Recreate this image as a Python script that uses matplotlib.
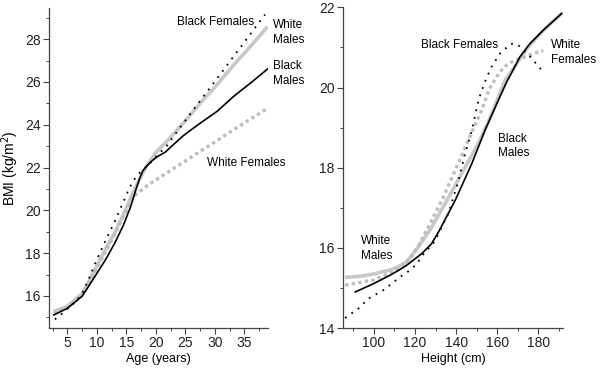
import matplotlib
matplotlib.use('Agg')
import matplotlib.pyplot as plt
from matplotlib.ticker import MultipleLocator

plt.rcParams['font.family'] = ['Liberation Sans', 'DejaVu Sans']
plt.rcParams['font.size'] = 8.5

# ── BMI by age (years)
wm_age = [2.7, 5, 7.5, 8.5, 10, 11.5, 13, 14.5, 16, 17.4, 18.5, 20, 21.8, 24.7, 27.6, 30.4, 33.2, 36.1, 38.9]
wm_age_bmi = [15.27, 15.52, 16.1, 16.6, 17.4, 18.2, 18.95, 19.8, 20.75, 21.55, 22.1, 22.7, 23.2, 24.09, 25.03, 25.88, 26.8, 27.68, 28.58]

wf_age = [2.7, 5, 7.5, 10, 12.8, 14.5, 16.2, 18.5, 21, 24, 27.5, 33.2, 38.6]
wf_age_bmi = [15.2, 15.45, 16.05, 17.3, 18.75, 19.7, 20.65, 21.15, 21.6, 22.13, 22.75, 23.77, 24.71]

bm_age = [2.7, 5, 7.5, 8.5, 10, 11.5, 13, 14.5, 15.7, 16.6, 17.2, 17.8, 18.5, 19.3, 20.2, 21.6, 22.5, 24.7, 27.6, 30.4, 33.2, 36.1, 39.0]
bm_age_bmi = [15.11, 15.42, 15.98, 16.4, 17.05, 17.7, 18.45, 19.3, 20.15, 20.95, 21.45, 21.85, 22.08, 22.3, 22.5, 22.72, 22.95, 23.5, 24.09, 24.63, 25.33, 25.96, 26.62]

bf_age = [2.9, 4, 5, 6.5, 7.5, 8.5, 10, 11.5, 13, 14.5, 15.6, 16.5, 17.4, 18.8, 20, 21.8, 24.7, 27.6, 30.4, 33.2, 36.1, 38.5]
bf_age_bmi = [14.9, 15.15, 15.4, 15.75, 16.1, 16.7, 17.7, 18.6, 19.45, 20.4, 21.1, 21.5, 21.8, 22.14, 22.5, 23.0, 24.09, 25.15, 26.17, 27.2, 28.27, 29.15]

# ── BMI by height (cm)
wm_ht = [86, 95, 100, 108, 112, 116, 121.7, 128.3, 134.7, 142.8, 150.9, 157.4, 163.8, 169.5, 174.4, 182.4, 191.4]
wm_ht_bmi = [15.26, 15.3, 15.35, 15.45, 15.53, 15.65, 16.03, 16.53, 17.11, 17.86, 18.61, 19.35, 20.18, 20.6, 20.97, 21.43, 21.85]

wf_ht = [86, 100, 111.3, 117, 121, 126.6, 133.1, 139.6, 146.0, 152.5, 156, 159.8, 163, 166.3, 171.1, 177.6, 182.4]
wf_ht_bmi = [15.07, 15.2, 15.45, 15.7, 15.98, 16.53, 17.19, 17.94, 18.69, 19.44, 19.95, 20.27, 20.5, 20.62, 20.72, 20.85, 20.92]

bm_ht = [91, 100, 108, 113.7, 116.1, 123.4, 128, 131.5, 139.6, 147.7, 154.1, 160.6, 164.7, 166.3, 171.1, 176, 182.4, 191.4]
bm_ht_bmi = [14.9, 15.11, 15.32, 15.49, 15.57, 15.86, 16.1, 16.4, 17.19, 18.11, 18.94, 19.69, 20.15, 20.3, 20.77, 21.1, 21.43, 21.85]

bf_ht = [86, 92.6, 97.5, 104.8, 112.9, 117, 121, 123.4, 129.5, 136.3, 141.2, 144.4, 147.7, 150.9, 154.1, 157, 161.4, 166.3, 168.5, 171.1, 176, 181.7]
bf_ht_bmi = [14.25, 14.49, 14.74, 14.95, 15.28, 15.42, 15.6, 15.8, 16.15, 16.86, 17.69, 18.36, 18.94, 19.69, 20.15, 20.5, 20.85, 21.08, 21.1, 21.02, 20.77, 20.43]

WM_STYLE = dict(color='#c8c8c8', lw=2.6, solid_capstyle='butt')
WF_STYLE = dict(color='#bdbdbd', lw=2.4, linestyle=(0, (1, 1)))
BM_STYLE = dict(color='black', lw=1.2)
BF_STYLE = dict(color='black', lw=1.3, linestyle=(0, (1, 3.3)))

fig = plt.figure(figsize=(6, 3.69), dpi=100)
ax1 = fig.add_axes([0.0817, 0.1111, 0.365, 0.867])
ax2 = fig.add_axes([0.5717, 0.1111, 0.3667, 0.869])

for ax in (ax1, ax2):
    for s in ('top', 'right'):
        ax.spines[s].set_visible(False)
    for s in ('left', 'bottom'):
        ax.spines[s].set_color('#444444')
        ax.spines[s].set_linewidth(0.9)
    ax.tick_params(which='major', direction='out', length=4, width=0.8, color='#444444', labelsize=10, labelcolor='#222222', pad=2)
    ax.tick_params(which='minor', direction='out', length=2.5, width=0.7, color='#444444')

# left panel
ax1.plot(wm_age, wm_age_bmi, **WM_STYLE)
ax1.plot(wf_age, wf_age_bmi, **WF_STYLE)
ax1.plot(bm_age, bm_age_bmi, **BM_STYLE)
ax1.plot(bf_age, bf_age_bmi, **BF_STYLE)
ax1.set_xlim(1.9, 39.0)
ax1.set_ylim(14.5, 29.45)
ax1.xaxis.set_minor_locator(MultipleLocator(2.5))
ax1.yaxis.set_minor_locator(MultipleLocator(1))
ax1.set_xticks([5, 10, 15, 20, 25, 30, 35])
ax1.set_yticks([16, 18, 20, 22, 24, 26, 28])
ax1.set_xlabel('Age (years)', fontsize=9, labelpad=2)
ax1.set_ylabel('BMI (kg/m$^2$)', fontsize=10, labelpad=3)

ax1.text(36.64, 28.82, 'Black Females', ha='right', va='center')
ax1.text(39.86, 28.3, 'White\nMales', ha='left', va='center', linespacing=1.3, clip_on=False)
ax1.text(39.86, 26.38, 'Black\nMales', ha='left', va='center', linespacing=1.3, clip_on=False)
ax1.text(28.68, 22.22, 'White Females', ha='left', va='center')

# right panel
ax2.plot(wm_ht, wm_ht_bmi, **WM_STYLE)
ax2.plot(wf_ht, wf_ht_bmi, **WF_STYLE)
ax2.plot(bm_ht, bm_ht_bmi, **BM_STYLE)
ax2.plot(bf_ht, bf_ht_bmi, **BF_STYLE)
ax2.set_xlim(85, 192)
ax2.set_ylim(14, 22)
ax2.set_xticks([100, 120, 140, 160, 180])
ax2.xaxis.set_minor_locator(MultipleLocator(10))
ax2.set_yticks([14, 16, 18, 20, 22])
ax2.yaxis.set_minor_locator(MultipleLocator(1))
ax2.set_xlabel('Height (cm)', fontsize=9, labelpad=2)

ax2.text(160.6, 21.06, 'Black Females', ha='right', va='center')
ax2.text(186.0, 20.87, 'White\nFemales', ha='left', va='center', linespacing=1.3, clip_on=False)
ax2.text(160.3, 18.54, 'Black\nMales', ha='left', va='center', linespacing=1.3)
ax2.text(93.9, 15.99, 'White\nMales', ha='left', va='center', linespacing=1.3)

fig.savefig('out.png', dpi=100)
